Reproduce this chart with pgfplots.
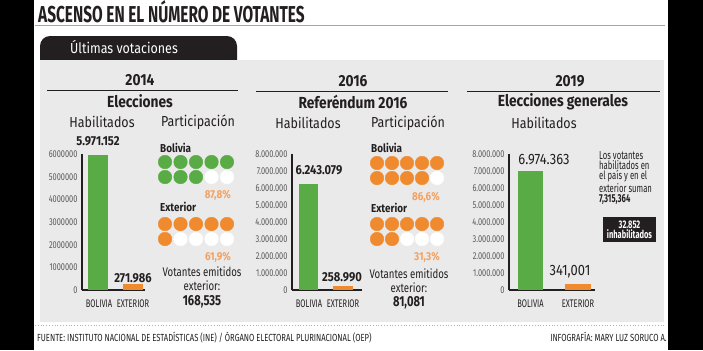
\documentclass[border=0pt]{standalone}
\usepackage{pgfplots}
\pgfplotsset{compat=1.18}
\usepackage{fontspec}
\setmainfont{Fira Sans}
\newfontfamily\ftitle{Fira Sans}[FakeStretch=0.67]
\newfontfamily\fcond{Fira Sans}[FakeStretch=0.74]
\newfontfamily\fxcond{Fira Sans}[FakeStretch=0.68]
\newfontfamily\fvx{Fira Sans}[FakeStretch=0.67]
\newfontfamily\fmed{Fira Sans}[FakeStretch=0.86]
\newfontfamily\fnar{Fira Sans}[FakeStretch=0.77]
\definecolor{grn}{HTML}{58AB45}
\definecolor{org}{HTML}{F08A2E}
\definecolor{pct}{HTML}{F4A160}
\definecolor{panel}{HTML}{EAEAEA}
\definecolor{ink}{HTML}{231F20}
\newcommand{\fs}[1]{\fontsize{#1bp}{#1bp}\selectfont}
\pgfplotsset{
  barax/.style={anchor=south west, scale only axis, ymin=0,
    axis x line*=bottom, axis y line*=left,
    axis line style={-, draw=ink, line width=1.1bp},
    major tick length=0, scaled y ticks=false, clip=false,
    yticklabel style={font=\fcond\fs{10}, text=black!65, xshift=-1bp},
    xticklabel style={font=\fxcond\fs{11}, text=ink, yshift=-6bp}},
}
\begin{document}
\begin{tikzpicture}
\begin{scope}[x=1bp,y=-1bp]
\fill[black] (0,0) rectangle (703,350);
\fill[white] (34,0) rectangle (668,350);
\node[anchor=base west, inner sep=0, text=ink] at (38,22) {\ftitle\bfseries\fs{23}ASCENSO EN EL NÚMERO DE VOTANTES};
\draw[gray!70, line width=0.8bp] (35,25.5) -- (665,25.5);
\fill[ink] (40,60) -- (40,46) arc[start angle=180, end angle=270, radius=10] -- (227,36) arc[start angle=270, end angle=360, radius=10] -- (237,60) -- cycle;
\node[anchor=base west, text=white, inner sep=0] at (70,53) {\fmed\fs{14.5}Últimas votaciones};
\fill[panel] (40,60) rectangle (664,322);
\draw[gray!60, dotted, line width=0.8bp] (35,325.5) -- (665,325.5);
\node[anchor=base west, inner sep=0, text=ink] at (37,341) {\fcond\fs{10.3}FUENTE: INSTITUTO NACIONAL DE ESTADÍSTICAS (INE) / ÓRGANO ELECTORAL PLURINACIONAL (OEP)};
\node[anchor=base east, inner sep=0, text=ink] at (667,341) {\fcond\fs{10.3}INFOGRAFÍA: MARY LUZ SORUCO A.};
% panel 1
\node[text=ink] at (140,80) {\fmed\bfseries\fs{16}2014};
\draw[ink, line width=0.8bp] (47,90.5) -- (238,90.5);
\node[text=ink] at (140,101) {\fmed\bfseries\fs{16}Elecciones};
\node[text=ink] at (102,122) {\fmed\fs{14.5}Habilitados};
\node[text=ink] at (198,122) {\fmed\fs{14.5}Participación};
\node[text=ink] at (98,141) {\fmed\bfseries\fs{13}5.971.152};
\node[text=ink] at (133,278) {\fmed\bfseries\fs{13}271.986};
\node[anchor=west, inner sep=0, text=ink] at (160,148) {\fmed\bfseries\fs{11.5}Bolivia};
\node[anchor=east, inner sep=0, text=pct] at (231,195) {\fmed\bfseries\fs{11.5}87,8\%};
\node[anchor=west, inner sep=0, text=ink] at (160,207) {\fmed\bfseries\fs{11.5}Exterior};
\node[anchor=east, inner sep=0, text=pct] at (231,257) {\fmed\bfseries\fs{11.5}61,9\%};
\node[text=ink, inner sep=0] at (202,272) {\fnar\fs{12.5}Votantes emitidos};
\node[text=ink, inner sep=0] at (202,286) {\fnar\fs{12.5}exterior:};
\node[text=ink, inner sep=0] at (202,302) {\fnar\bfseries\fs{14.5}168,535};
% panel 2
\node[text=ink] at (353,81) {\fmed\bfseries\fs{16}2016};
\draw[ink, line width=0.8bp] (256,91) -- (448,91);
\node[text=ink] at (353,102) {\fmed\bfseries\fs{16}Referéndum 2016};
\node[text=ink] at (308,123) {\fmed\fs{14.5}Habilitados};
\node[text=ink] at (408,123) {\fmed\fs{14.5}Participación};
\node[text=ink] at (319,170) {\fmed\bfseries\fs{13}6.243.079};
\node[text=ink] at (342,277) {\fmed\bfseries\fs{13}258.990};
\node[anchor=west, inner sep=0, text=ink] at (371,148) {\fmed\bfseries\fs{11.5}Bolivia};
\node[anchor=east, inner sep=0, text=pct] at (440,197) {\fmed\bfseries\fs{11.5}86,6\%};
\node[anchor=west, inner sep=0, text=ink] at (371,208) {\fmed\bfseries\fs{11.5}Exterior};
\node[anchor=east, inner sep=0, text=pct] at (440,257) {\fmed\bfseries\fs{11.5}31,3\%};
\node[text=ink, inner sep=0] at (409,274) {\fnar\fs{12.5}Votantes emitidos};
\node[text=ink, inner sep=0] at (409,288) {\fnar\fs{12.5}exterior:};
\node[text=ink, inner sep=0] at (409,303) {\fnar\bfseries\fs{14.5}81,081};
% panel 3
\node[text=ink] at (570,81) {\fmed\bfseries\fs{16}2019};
\draw[ink, line width=0.8bp] (467,91) -- (660,91);
\node[text=ink] at (563,102) {\fmed\bfseries\fs{16}Elecciones generales};
\node[text=ink] at (544,123) {\fmed\fs{14.5}Habilitados};
\node[text=ink] at (544,160) {\fmed\fs{15}6.974.363};
\node[text=ink] at (570,272) {\fmed\fs{15}341,001};
\node[anchor=north west, align=left, inner sep=0, text=ink,
  font={\fvx\fontsize{11.5bp}{10.4bp}\selectfont}] at (599,151) {Los votantes\\habilitados en\\el país y en el\\exterior suman\\\textbf{7,315,364}};
\fill[ink] (603,217) rectangle (656,242);
\node[align=center, inner sep=0, text=white,
  font={\fxcond\bfseries\fontsize{11bp}{10bp}\selectfont}] at (629.5,229.5) {32.852\\inhabilitados};
\end{scope}

\begin{axis}[barax, at={(82bp,-290bp)}, width=63bp, height=135.6bp,
  xmin=82, xmax=145, ymax=6000000,
  xtick={99,133}, xticklabels={BOLIVIA,EXTERIOR},
  ytick={0,1000000,2000000,3000000,4000000,5000000,6000000},
  yticklabels={0,1000000,2000000,3000000,4000000,5000000,6000000}]
\addplot[ybar, bar shift=0pt, bar width=20bp, fill=grn, draw=none] coordinates {(98,5971152)};
\addplot[ybar, bar shift=0pt, bar width=20bp, fill=org, draw=none] coordinates {(133,271986)};
\end{axis}

\begin{axis}[barax, at={(292bp,-290bp)}, width=70bp, height=136bp,
  xmin=292, xmax=362, ymax=8000000,
  xtick={309,343}, xticklabels={BOLIVIA,EXTERIOR},
  ytick={0,1000000,2000000,3000000,4000000,5000000,6000000,7000000,8000000},
  yticklabels={0,1.000.000,2.000.000,3.000.000,4.000.000,5.000.000,6.000.000,7.000.000,8.000.000}]
\addplot[ybar, bar shift=0pt, bar width=19bp, fill=grn, draw=none] coordinates {(308.5,6243079)};
\addplot[ybar, bar shift=0pt, bar width=20bp, fill=org, draw=none] coordinates {(343,258990)};
\end{axis}

\begin{axis}[barax, at={(509bp,-290bp)}, width=86bp, height=136bp,
  xmin=509, xmax=595, ymax=8000000,
  xtick={530.5,578}, xticklabels={BOLIVIA,EXTERIOR},
  ytick={0,1000000,2000000,3000000,4000000,5000000,6000000,7000000,8000000},
  yticklabels={0,1.000.000,2.000.000,3.000.000,4.000.000,5.000.000,6.000.000,7.000.000,8.000.000}]
\addplot[ybar, bar shift=0pt, bar width=25bp, fill=grn, draw=none] coordinates {(530.5,6974363)};
\addplot[ybar, bar shift=0pt, bar width=26bp, fill=org, draw=none] coordinates {(578,341001)};
\end{axis}

\begin{axis}[at={(0bp,-350bp)}, anchor=south west, scale only axis, width=703bp, height=350bp,
  xmin=0, xmax=703, ymin=0, ymax=350, y dir=reverse, hide axis, clip=false]
% 2014 Bolivia 87.8%
\addplot[only marks, mark=*, mark size=6.8bp, mark options={fill=grn, draw=grn}] coordinates {(165,162)(180.5,162)(196,162)(211.5,162)(227,162)(165,177)(180.5,177)(196,177)};
\addplot[only marks, mark=*, mark size=6.8bp, mark options={fill=white, draw=white}] coordinates {(211.5,177)(227,177)};
% 2014 Exterior 61.9%
\addplot[only marks, mark=*, mark size=6.8bp, mark options={fill=org, draw=org}] coordinates {(165,224)(180.5,224)(196,224)(211.5,224)(227,224)(165,239)};
\addplot[only marks, mark=*, mark size=6.8bp, mark options={fill=white, draw=white}] coordinates {(180.5,239)(196,239)(211.5,239)(227,239)};
% 2016 Bolivia 86.6%
\addplot[only marks, mark=*, mark size=6.8bp, mark options={fill=org, draw=org}] coordinates {(377,163)(392,163)(407,163)(422,163)(437,163)(377,178)(392,178)(407,178)(422,178)};
\addplot[only marks, mark=*, mark size=6.8bp, mark options={fill=white, draw=white}] coordinates {(437,178)};
% 2016 Exterior 31.3%
\addplot[only marks, mark=*, mark size=6.8bp, mark options={fill=org, draw=org}] coordinates {(377,224)(392,224)(407,224)(422,224)(437,224)(377,239)(392,239)};
\addplot[only marks, mark=*, mark size=6.8bp, mark options={fill=white, draw=white}] coordinates {(407,239)(422,239)(437,239)};
\end{axis}

\begin{scope}[x=1bp,y=-1bp]
\pgfresetboundingbox
\path[use as bounding box] (0,0) rectangle (703,350);
\end{scope}
\end{tikzpicture}
\end{document}
